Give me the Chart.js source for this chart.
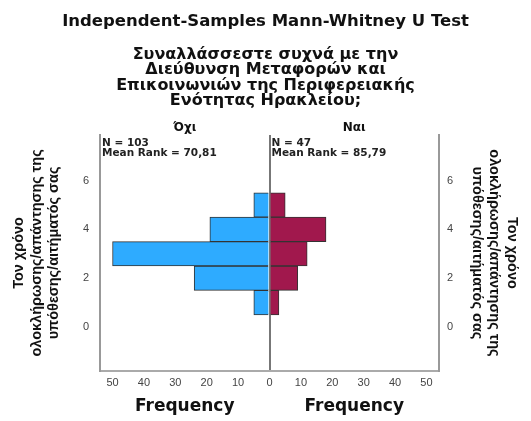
<!DOCTYPE html>
<html>
<head>
<meta charset="utf-8">
<script src="https://cdn.jsdelivr.net/npm/chart.js"></script>
<style>
  html, body { margin: 0; padding: 0; background: #fff; }
  #wrap { width: 531px; height: 421px; }
</style>
</head>
<body>
<div id="wrap"><canvas id="mwChart"></canvas></div>
<script>
const bins = [1, 2, 3, 4, 5];
const countsNo = [5, 24, 50, 19, 5];   // Όχι, N = 103
const countsYes = [3, 9, 12, 18, 5];   // Ναι, N = 47
const groupNames = ["Όχι", "Ναι"];
const groupN = [103, 47];
const meanRanks = ["70,81", "85,79"];
const yTicks = [0, 2, 4, 6];
const xTicks = [10, 20, 30, 40, 50];

const titleText = "Independent-Samples Mann-Whitney U Test";
const subtitleLines = [
    "Συναλλάσσεστε συχνά με την",
    "Διεύθυνση Μεταφορών και",
    "Επικοινωνιών της Περιφερειακής",
    "Ενότητας Ηρακλείου;"
];
const yTitleLines = [
    "Τον χρόνο",
    "ολοκλήρωσης/απάντησης της",
    "υπόθεσης/αιτήματός σας"
];

const FONT = "'Liberation Sans', Arial, sans-serif";
const WIDE = "'DejaVu Sans', Verdana, sans-serif";

// extra labels: group headers, N / mean rank, "Frequency" under each half
const pyramidLabels = {
    id: "pyramidLabels",
    afterDraw(chart) {
        const { ctx, chartArea, scales } = chart;
        const x = scales.x;
        const halves = [-27, 27];
        ctx.save();
        halves.forEach((v, i) => {
            const cx = x.getPixelForValue(v);
            ctx.fillStyle = "#111";
            ctx.textAlign = "center";
            ctx.textBaseline = "middle";
            ctx.font = "bold 12px " + WIDE;
            ctx.fillText(groupNames[i], cx, chartArea.top - 7);
            ctx.font = "bold 17px " + WIDE;
            ctx.fillText("Frequency", cx, chartArea.bottom + 36);

            const left = i === 0 ? chartArea.left : x.getPixelForValue(0);
            ctx.textAlign = "left";
            ctx.font = "bold 10.5px " + WIDE;
            ctx.fillStyle = "#222";
            ctx.fillText("N = " + groupN[i], left + 2, chartArea.top + 8);
            ctx.fillText("Mean Rank = " + meanRanks[i], left + 2, chartArea.top + 18);
        });
        ctx.restore();
    }
};

const yAxisBase = {
    type: "linear",
    min: -1.8,
    max: 7.87,
    offset: false,
    ticks: {
        stepSize: 2,
        includeBounds: false,
        color: "#444",
        font: { family: FONT, size: 11 },
        callback: (v) => yTicks.includes(v) ? v : ""
    },
    grid: { offset: false, drawOnChartArea: false, drawTicks: false },
    border: { display: true, color: "#999", width: 2 },
    title: {
        display: true,
        text: yTitleLines,
        color: "#111",
        font: { family: FONT, size: 14.5, weight: "bold", lineHeight: 1.22 },
        padding: { top: 10, bottom: 0 }
    }
};

new Chart(document.getElementById("mwChart"), {
    type: "bar",
    data: {
        datasets: [{
            label: groupNames[0],
            data: bins.map((b, i) => ({ x: -countsNo[i], y: b })),
            backgroundColor: "#2eabff",
            borderColor: "#333",
            borderWidth: 1
        }, {
            label: groupNames[1],
            data: bins.map((b, i) => ({ x: countsYes[i], y: b })),
            backgroundColor: "#a1184d",
            borderColor: "#333",
            borderWidth: 1
        }]
    },
    options: {
        indexAxis: "y",
        responsive: true,
        maintainAspectRatio: false,
        animation: false,
        grouped: false,
        barPercentage: 1,
        categoryPercentage: 1,
        layout: { padding: 0 },
        plugins: {
            legend: { display: false },
            tooltip: { enabled: false },
            title: {
                display: true,
                text: titleText,
                color: "#111",
                font: { family: WIDE, size: 16.5, weight: "bold", lineHeight: 1.2 },
                padding: { top: 12, bottom: 7 }
            },
            subtitle: {
                display: true,
                text: subtitleLines,
                color: "#111",
                font: { family: WIDE, size: 16, weight: "bold", lineHeight: 0.97 },
                padding: { top: 8, bottom: 26 }
            }
        },
        scales: {
            x: {
                type: "linear",
                min: -54,
                max: 54,
                ticks: {
                    stepSize: 10,
                    includeBounds: false,
                    padding: 5,
                    color: "#444",
                    font: { family: FONT, size: 11 },
                    callback: (v) => (v === 0 || xTicks.includes(Math.abs(v))) ? Math.abs(v) : ""
                },
                grid: {
                    drawTicks: false,
                    lineWidth: 2,
                    color: (c) => c.tick && c.tick.value === 0 ? "#777" : "rgba(0,0,0,0)"
                },
                border: { display: true, color: "#aaa", width: 2 },
                afterFit: (s) => { s.height = 50; }
            },
            y: Object.assign({}, yAxisBase, {
                position: "left",
                ticks: Object.assign({}, yAxisBase.ticks, { padding: 11 }),
                afterFit: (s) => { s.width = 100; }
            }),
            y2: Object.assign({}, yAxisBase, {
                position: "right",
                ticks: Object.assign({}, yAxisBase.ticks, { padding: 8 }),
                afterFit: (s) => { s.width = 92; }
            })
        }
    },
    plugins: [pyramidLabels]
});
</script>
</body>
</html>
